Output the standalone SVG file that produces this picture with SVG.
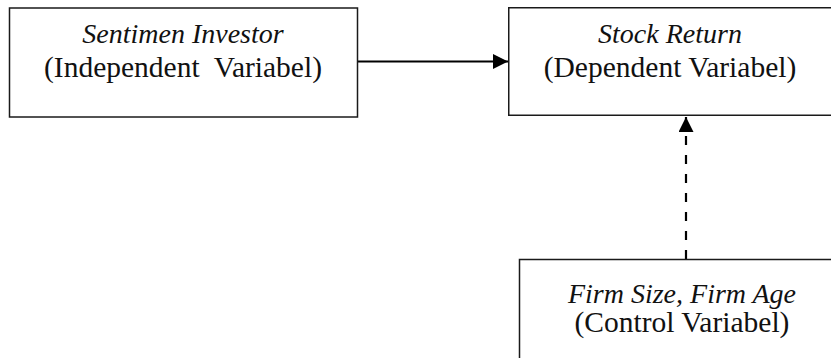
<svg xmlns="http://www.w3.org/2000/svg" width="831" height="358" viewBox="0 0 831 358">
  <style>
    .box { fill: #ffffff; stroke: #1a1a1a; stroke-width: 1.5; }
    .t { font-family: "Liberation Serif", "Times New Roman", serif; font-size: 29.5px; fill: #111111; text-anchor: middle; }
    .it { font-style: italic; font-size: 28px; }
    .conn { stroke: #000000; stroke-width: 2.2; fill: none; }
    .dash { stroke-dasharray: 9 10; }
  </style>
  <defs>
    <marker id="arrow" viewBox="0 0 10 10" refX="10" refY="5" markerWidth="15" markerHeight="15" markerUnits="userSpaceOnUse" orient="auto">
      <path d="M0,0 L10,5 L0,10 Z" fill="#000000"/>
    </marker>
  </defs>
  <rect width="831" height="358" fill="#ffffff"/>
  <g id="connectors">
    <line class="conn" x1="357.5" y1="61.5" x2="508" y2="61.5" marker-end="url(#arrow)"/>
    <line class="conn dash" x1="686" y1="259" x2="686" y2="117" marker-end="url(#arrow)"/>
  </g>
  <g id="node-sentimen">
    <rect class="box" x="9.5" y="8" width="348" height="109"/>
    <text class="t it" x="183" y="43">Sentimen Investor</text>
    <text class="t" x="183" y="77" xml:space="preserve">(Independent  Variabel)</text>
  </g>
  <g id="node-stock">
    <rect class="box" x="508.75" y="7.75" width="340" height="107.5"/>
    <text class="t it" x="670" y="43">Stock Return</text>
    <text class="t" x="670" y="77">(Dependent Variabel)</text>
  </g>
  <g id="node-control">
    <rect class="box" x="519.5" y="259.5" width="330" height="120"/>
    <text class="t it" x="682" y="303">Firm Size, Firm Age</text>
    <text class="t" x="682" y="332">(Control Variabel)</text>
  </g>
</svg>
